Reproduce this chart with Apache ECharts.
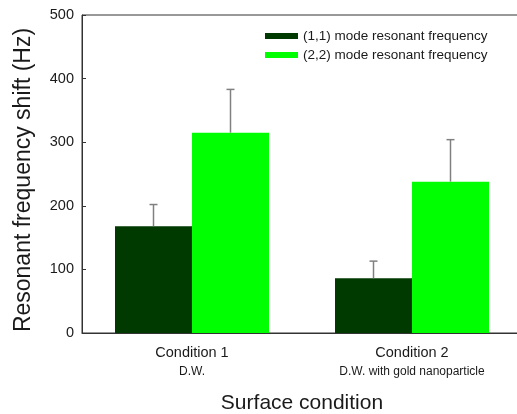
<!DOCTYPE html>
<html>
<head>
<meta charset="utf-8">
<script src="https://cdn.jsdelivr.net/npm/echarts@6/dist/echarts.min.js"></script>
<style>
  html, body { margin: 0; padding: 0; background: #fff; }
  #chart { width: 517px; height: 414px; }
</style>
</head>
<body>
<div id="chart"></div>
<script>
const categories = ['Condition 1', 'Condition 2'];
const subLabels = ['D.W.', 'D.W. with gold nanoparticle'];
const mode11 = [168, 86];
const mode11Err = [34, 27];
const mode22 = [315, 238];
const mode22Err = [68, 66];

const seriesNames = ['(1,1) mode resonant frequency', '(2,2) mode resonant frequency'];
const colors = ['#003a00', '#00ff00'];

// error bar points: [category index, value, error, series index]
const errData = [];
mode11.forEach((v, i) => errData.push([i, v, mode11Err[i], 0]));
mode22.forEach((v, i) => errData.push([i, v, mode22Err[i], 1]));

const chart = echarts.init(document.getElementById('chart'));

chart.setOption({
  animation: false,
  textStyle: { fontFamily: 'Liberation Sans, Arial, sans-serif', color: '#1a1a1a' },
  grid: {
    left: 82, top: 15, width: 440, height: 318,
    outerBoundsMode: 'none',
    show: true, borderColor: '#333', borderWidth: 1
  },
  legend: {
    data: seriesNames,
    orient: 'vertical',
    left: 265, top: 29,
    padding: 0,
    icon: 'rect',
    itemWidth: 33, itemHeight: 6, itemGap: 5,
    textStyle: { fontSize: 13.5, color: '#1a1a1a' }
  },
  xAxis: {
    type: 'category',
    data: categories,
    name: 'Surface condition',
    nameLocation: 'middle',
    nameGap: 60,
    nameTextStyle: { fontSize: 21, color: '#1a1a1a' },
    axisLine: { lineStyle: { color: '#333' } },
    axisTick: { show: false },
    axisLabel: {
      margin: 11,
      formatter: (v, i) => '{a|' + v + '}\n{b|' + subLabels[i] + '}',
      rich: {
        a: { fontSize: 14.5, color: '#1a1a1a', lineHeight: 18 },
        b: { fontSize: 12, color: '#1a1a1a', lineHeight: 20 }
      }
    }
  },
  yAxis: {
    type: 'value',
    min: 0, max: 500, interval: 100,
    name: 'Resonant frequency shift (Hz)',
    nameLocation: 'middle',
    nameGap: 47,
    nameTextStyle: { fontSize: 23, color: '#1a1a1a', padding: [0, 12, 0, 0] },
    axisLine: { show: true, lineStyle: { color: '#333' } },
    axisTick: { show: true, inside: true, length: 4, lineStyle: { color: '#333' } },
    axisLabel: { fontSize: 14.5, color: '#1a1a1a', margin: 8 },
    splitLine: { show: false }
  },
  series: [
    {
      name: seriesNames[0], type: 'bar', data: mode11,
      itemStyle: { color: colors[0] },
      barGap: '0%', barCategoryGap: '30%'
    },
    {
      name: seriesNames[1], type: 'bar', data: mode22,
      itemStyle: { color: colors[1] },
      barGap: '0%', barCategoryGap: '30%'
    },
    {
      type: 'custom',
      data: errData,
      z: 10,
      renderItem: (params, api) => {
        const idx = api.value(0);
        const val = api.value(1);
        const err = api.value(2);
        const s = api.value(3);
        const band = api.size([1, 0])[0];
        const off = (s === 0 ? -1 : 1) * band * 0.175;
        const base = api.coord([idx, val]);
        const top = api.coord([idx, val + err]);
        const x = base[0] + off;
        const style = { stroke: '#808080', lineWidth: 1.5 };
        return {
          type: 'group',
          children: [
            { type: 'line', shape: { x1: x, y1: base[1], x2: x, y2: top[1] }, style },
            { type: 'line', shape: { x1: x - 4, y1: top[1], x2: x + 4, y2: top[1] }, style }
          ]
        };
      }
    }
  ]
});
</script>
</body>
</html>
